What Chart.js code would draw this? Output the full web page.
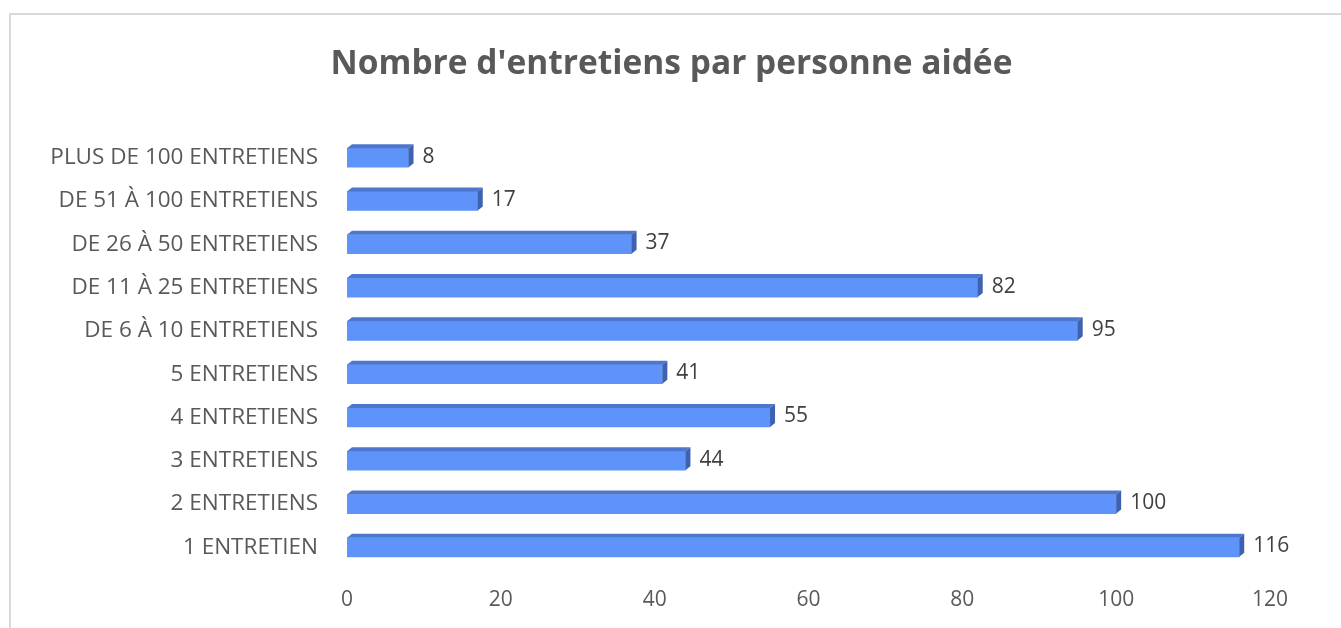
<!DOCTYPE html>
<html>
<head>
<meta charset="utf-8">
<script src="https://cdn.jsdelivr.net/npm/chart.js@4.4.1/dist/chart.umd.min.js"></script>
<style>
  body { margin: 0; background: #fff; overflow: hidden; }
  #frame { position: absolute; left: 9px; top: 13px; width: 1400px; height: 700px;
           border-left: 2px solid #d9d9d9; border-top: 2px solid #d9d9d9; }
  #chart { position: absolute; left: 0; top: 0; }
  #title { position: absolute; left: 0; width: 1343px; top: 38px; text-align: center;
           font: bold 33.5px "Open Sans", sans-serif; color: #595959; line-height: 46px; }
</style>
</head>
<body>
<div id="frame"></div>
<canvas id="chart" width="1341" height="628"></canvas>
<div id="title"></div>
<script>
const chartTitle = "Nombre d'entretiens par personne aidée";
const categories = [
  "PLUS DE 100 ENTRETIENS",
  "DE 51 À 100 ENTRETIENS",
  "DE 26 À 50 ENTRETIENS",
  "DE 11 À 25 ENTRETIENS",
  "DE 6 À 10 ENTRETIENS",
  "5 ENTRETIENS",
  "4 ENTRETIENS",
  "3 ENTRETIENS",
  "2 ENTRETIENS",
  "1 ENTRETIEN"
];
const counts = [8, 17, 37, 82, 95, 41, 55, 44, 100, 116];
const xTicks = [0, 20, 40, 60, 80, 100, 120];

const FONT = "'Open Sans', sans-serif";

document.getElementById("title").textContent = chartTitle;

/* ===== fake 3D edges + value labels ===== */
const bar3d = {
    id: "bar3d",
    afterDatasetsDraw(chart) {
        const ctx = chart.ctx;
        const meta = chart.getDatasetMeta(0);
        const dx = 5, dy = 4;
        ctx.save();
        meta.data.forEach(function (bar, i) {
            const top = bar.y - bar.height / 2;
            const bottom = bar.y + bar.height / 2;
            const left = bar.base;
            const right = bar.x;

            // top face
            ctx.fillStyle = "#4d77cc";
            ctx.beginPath();
            ctx.moveTo(left, top);
            ctx.lineTo(left + dx, top - dy);
            ctx.lineTo(right + dx, top - dy);
            ctx.lineTo(right, top);
            ctx.closePath();
            ctx.fill();

            // right face
            ctx.fillStyle = "#3e62b0";
            ctx.beginPath();
            ctx.moveTo(right, top);
            ctx.lineTo(right + dx, top - dy);
            ctx.lineTo(right + dx, bottom - dy);
            ctx.lineTo(right, bottom);
            ctx.closePath();
            ctx.fill();

            // value label
            ctx.fillStyle = "#404040";
            ctx.font = "21px " + FONT;
            ctx.textAlign = "left";
            ctx.textBaseline = "middle";
            ctx.fillText(String(counts[i]), right + dx + 9, bar.y - 1);
        });
        ctx.restore();
    }
};

new Chart(document.getElementById("chart"), {
    type: "bar",
    data: {
        labels: categories,
        datasets: [{
            data: counts,
            backgroundColor: "#5e94fa",
            borderWidth: 0,
            barThickness: 19
        }]
    },
    options: {
        indexAxis: "y",
        responsive: false,
        animation: false,
        devicePixelRatio: 1,
        layout: { padding: { left: 0, right: 71, top: 136, bottom: 0 } },
        plugins: {
            legend: { display: false },
            tooltip: { enabled: false }
        },
        scales: {
            x: {
                min: 0,
                max: 120,
                afterBuildTicks: function (scale) {
                    scale.ticks = xTicks.map(function (v) { return { value: v }; });
                },
                ticks: {
                    color: "#595959",
                    font: { family: FONT, size: 21 },
                    padding: 18
                },
                grid: { display: false, drawTicks: false },
                border: { display: false },
                afterFit: function (scale) { scale.height = 59; }
            },
            y: {
                ticks: {
                    color: "#595959",
                    font: { family: FONT, size: 22.5 },
                    padding: 29
                },
                grid: { display: false, drawTicks: false },
                border: { display: false },
                afterFit: function (scale) { scale.width = 347; }
            }
        }
    },
    plugins: [bar3d]
});
</script>
</body>
</html>
